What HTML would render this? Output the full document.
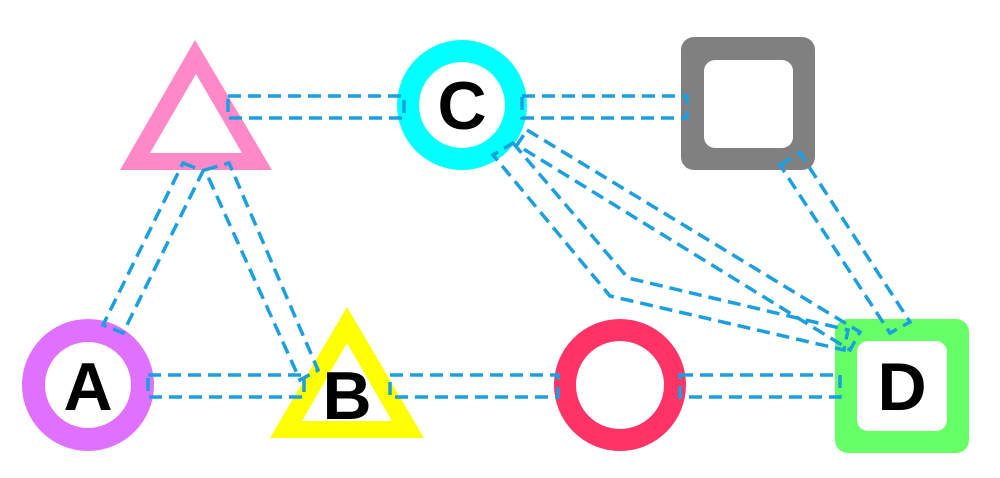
<!DOCTYPE html>
<html><head><style>html,body{margin:0;padding:0;background:#fff}svg{display:block}</style></head><body>
<svg width="1000" height="478" viewBox="0 0 1000 478" xmlns="http://www.w3.org/2000/svg">
<polygon points="195,40 120,170 272,170" fill="#ff88c8"/>
<polygon points="196,74 150,153 242,153" fill="#fff"/>
<circle cx="462" cy="105" r="65" fill="#00ffff"/>
<circle cx="462" cy="105" r="43" fill="#fff"/>
<rect x="681" y="37" width="134" height="133" rx="13" fill="#808080"/>
<rect x="704" y="60" width="89" height="88" rx="11" fill="#fff"/>
<circle cx="88" cy="385" r="66" fill="#e070ff"/>
<circle cx="88" cy="385" r="43" fill="#fff"/>
<polygon points="347,307 270,438 424,438" fill="#ffff00"/>
<polygon points="347,343 302,421 392,421" fill="#fff"/>
<circle cx="620" cy="385" r="66" fill="#ff3366"/>
<circle cx="620" cy="385" r="44" fill="#fff"/>
<rect x="835" y="319" width="134" height="134" rx="13" fill="#66ff66"/>
<rect x="857" y="341" width="90" height="90" rx="11" fill="#fff"/>
<g fill="none" stroke="#1a9fe0" stroke-width="3.5" stroke-dasharray="13,7">
<polygon points="228,96 404,96 404,118 228,118"/>
<polygon points="522,96 687,96 687,118 522,118"/>
<polygon points="148,375 304,375 304,397 148,397"/>
<polygon points="390,375 558,375 558,397 390,397"/>
<polygon points="680,375 840,375 840,397 680,397"/>
<polygon points="183,163 203,171 123,333 103,325"/>
<polygon points="205,170 229,163 318,370 300,380"/>
<polygon points="527,130 860,332 850,350 517,145"/>
<polygon points="513,143 628,278 848,330 844,350 610,296 493,155"/>
<polygon points="780,165 800,153 910,322 890,333"/>
</g>
<g font-family="Liberation Sans, sans-serif" font-weight="bold" font-size="68" fill="#000" text-anchor="middle">
<text x="462" y="129">C</text>
<text x="88" y="410">A</text>
<text x="347" y="419">B</text>
<text x="902" y="410">D</text>
</g>
</svg>
</body></html>
